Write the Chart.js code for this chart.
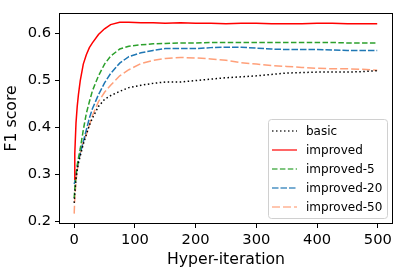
<!DOCTYPE html>
<html>
<head>
<meta charset="utf-8">
<script src="https://cdn.jsdelivr.net/npm/chart.js@4"></script>
<style>
  html, body { margin: 0; padding: 0; background: #fff; }
  canvas { display: block; }
</style>
</head>
<body>
<canvas id="chart" width="401" height="272"></canvas>
<script>
// hyper-iteration values where the curves are sampled
const iterations = [0, 1, 3, 5, 7, 10, 15, 20, 25, 30, 40, 50, 60, 75, 90, 110, 130, 150, 175, 200,
                    225, 250, 275, 300, 325, 350, 375, 400, 425, 450, 475, 499];

const basic = [0.240, 0.260, 0.290, 0.310, 0.325, 0.340, 0.365, 0.385, 0.405, 0.420, 0.445, 0.460, 0.468, 0.477, 0.485, 0.490, 0.494, 0.497, 0.497, 0.500,
               0.503, 0.506, 0.508, 0.510, 0.513, 0.516, 0.517, 0.518, 0.518, 0.518, 0.519, 0.521];
const improved = [0.290, 0.345, 0.410, 0.445, 0.470, 0.500, 0.535, 0.555, 0.570, 0.580, 0.598, 0.610, 0.619, 0.624, 0.624, 0.623, 0.623, 0.622, 0.623, 0.622,
                  0.622, 0.621, 0.622, 0.622, 0.621, 0.621, 0.621, 0.622, 0.622, 0.621, 0.621, 0.621];
const improved5 = [0.250, 0.270, 0.300, 0.320, 0.335, 0.355, 0.395, 0.430, 0.455, 0.478, 0.510, 0.535, 0.552, 0.567, 0.573, 0.576, 0.578, 0.579, 0.580, 0.580,
                   0.581, 0.581, 0.581, 0.581, 0.581, 0.581, 0.581, 0.581, 0.581, 0.580, 0.580, 0.580];
const improved20 = [0.280, 0.285, 0.300, 0.315, 0.330, 0.345, 0.370, 0.395, 0.420, 0.440, 0.470, 0.495, 0.515, 0.537, 0.551, 0.559, 0.564, 0.568, 0.568, 0.568,
                    0.570, 0.571, 0.571, 0.569, 0.567, 0.566, 0.566, 0.566, 0.565, 0.564, 0.564, 0.564];
const improved50 = [0.217, 0.250, 0.285, 0.310, 0.325, 0.345, 0.370, 0.385, 0.405, 0.425, 0.455, 0.475, 0.490, 0.510, 0.523, 0.536, 0.543, 0.547, 0.549, 0.548,
                    0.546, 0.543, 0.538, 0.535, 0.532, 0.530, 0.528, 0.526, 0.525, 0.525, 0.524, 0.522];

const xTicks = [0, 100, 200, 300, 400, 500];
const yTicks = [0.2, 0.3, 0.4, 0.5, 0.6];

const FONT = "'DejaVu Sans', sans-serif";

function points(values) {
    return iterations.map((it, i) => ({ x: it, y: values[i] }));
}

function series(label, values, color, dash) {
    return {
        label: label,
        data: points(values),
        borderColor: color,
        borderWidth: 1.5,
        borderDash: dash,
        borderCapStyle: 'butt',
        pointRadius: 0,
        tension: 0,
        fill: false
    };
}

// box around the plot (matplotlib spines)
const frame = {
    id: 'frame',
    afterDatasetsDraw(chart) {
        const a = chart.chartArea, ctx = chart.ctx;
        ctx.save();
        ctx.strokeStyle = '#000';
        ctx.lineWidth = 1;
        ctx.strokeRect(Math.round(a.left) + 0.5, Math.round(a.top) + 0.5,
                       Math.round(a.right - a.left) - 1, Math.round(a.bottom - a.top) - 1);
        ctx.restore();
    }
};

// legend inside the lower right corner
const boxLegend = {
    id: 'boxLegend',
    afterDraw(chart) {
        const a = chart.chartArea, ctx = chart.ctx;
        const w = 119, h = 99;
        const left = a.right - 6 - w, top = a.bottom - 6 - h;
        ctx.save();
        ctx.beginPath();
        ctx.roundRect(left + 0.5, top + 0.5, w, h, 3);
        ctx.fillStyle = 'rgba(255,255,255,0.8)';
        ctx.fill();
        ctx.strokeStyle = '#d0d0d0';
        ctx.lineWidth = 1;
        ctx.stroke();
        ctx.font = '12px ' + FONT;
        ctx.textBaseline = 'middle';
        chart.data.datasets.forEach((ds, i) => {
            const y = top + 12 + i * 19;
            ctx.beginPath();
            ctx.setLineDash(ds.borderDash || []);
            ctx.strokeStyle = ds.borderColor;
            ctx.globalAlpha = 0.8;
            ctx.lineWidth = 1.5;
            ctx.moveTo(left + 4, y);
            ctx.lineTo(left + 29, y);
            ctx.stroke();
            ctx.globalAlpha = 1;
            ctx.setLineDash([]);
            ctx.fillStyle = '#000';
            ctx.fillText(ds.label, left + 38, y + 0.5);
        });
        ctx.restore();
    }
};

new Chart(document.getElementById('chart'), {
    type: 'line',
    data: {
        datasets: [
            series('basic', basic, '#000000', [1.5, 2.5]),
            series('improved', improved, '#ff0000', []),
            series('improved-5', improved5, '#2ca02c', [5.5, 2.4]),
            series('improved-20', improved20, '#1f77b4', [6.5, 2]),
            series('improved-50', improved50, '#ffa07a', [8, 3])
        ]
    },
    options: {
        responsive: false,
        animation: false,
        layout: { padding: { top: 6, right: 8, left: 0, bottom: 0 } },
        plugins: {
            legend: { display: false },
            tooltip: { enabled: false }
        },
        scales: {
            x: {
                type: 'linear',
                min: -25,
                max: 525,
                afterBuildTicks: s => { s.ticks = xTicks.map(v => ({ value: v })); },
                afterFit: s => { s.height = 48; },
                grid: { drawOnChartArea: false, tickLength: 4, tickColor: '#000' },
                border: { display: false },
                ticks: { color: '#000', font: { family: FONT, size: 14.7 }, padding: 3, maxRotation: 0 },
                title: { display: true, text: 'Hyper-iteration', color: '#000',
                         font: { family: FONT, size: 15.7 }, padding: { top: 0, bottom: 3 } }
            },
            y: {
                min: 0.195,
                max: 0.644,
                afterBuildTicks: s => { s.ticks = yTicks.map(v => ({ value: v })); },
                afterFit: s => { s.width = 59; },
                grid: { drawOnChartArea: false, tickLength: 4, tickColor: '#000' },
                border: { display: false },
                ticks: { color: '#000', font: { family: FONT, size: 14.7 }, padding: 4,
                         callback: v => v.toFixed(1) },
                title: { display: true, text: 'F1 score', color: '#000',
                         font: { family: FONT, size: 15.7 }, padding: { top: 3, bottom: 0 } }
            }
        }
    },
    plugins: [frame, boxLegend]
});
</script>
</body>
</html>
